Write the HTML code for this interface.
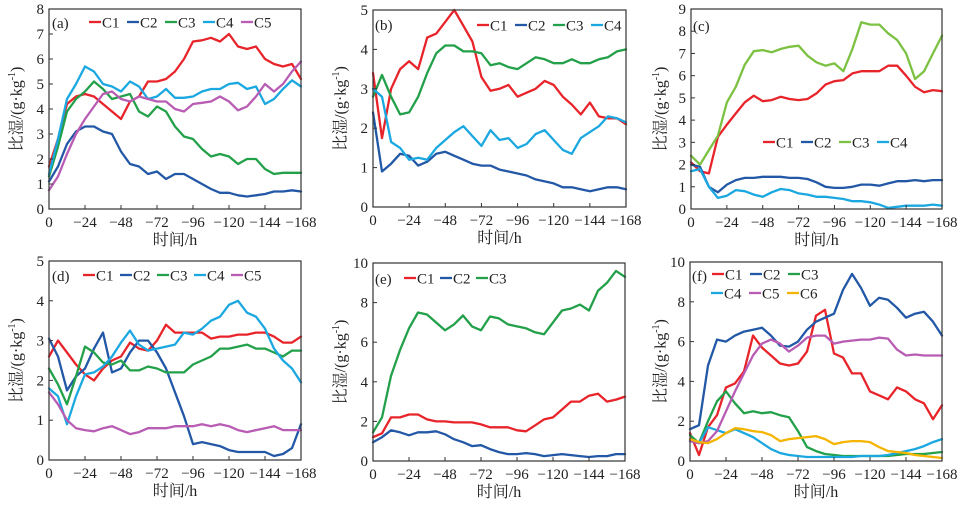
<!DOCTYPE html>
<html><head><meta charset="utf-8">
<style>
body{margin:0;background:#fff;}
svg{display:block;font-family:"Liberation Serif","Noto Serif CJK SC",serif;}
</style></head>
<body>
<svg id="chart" width="970" height="505" viewBox="0 0 970 505" xmlns="http://www.w3.org/2000/svg"></svg>
<script>
const hours=[0,6,12,18,24,30,36,42,48,54,60,66,72,78,84,90,96,102,108,114,120,126,132,138,144,150,156,162,168];
const xTicks=[0,24,48,72,96,120,144,168];
const xTickLabels=["0","\u221224","\u221248","\u221272","\u221296","\u2212120","\u2212144","\u2212168"];
const seriesNames=["C1","C2","C3","C4","C5","C6"];
// (a)
const aC1=[1.7,2.8,4.2,4.5,4.6,4.5,4.2,3.9,3.6,4.3,4.5,5.1,5.1,5.2,5.5,6.0,6.7,6.75,6.85,6.7,7.0,6.5,6.4,6.5,6.0,5.8,5.7,5.8,5.2];
const aC2=[1.1,1.7,2.6,3.1,3.3,3.3,3.1,3.0,2.3,1.8,1.7,1.4,1.5,1.2,1.4,1.4,1.2,1.0,0.8,0.65,0.65,0.55,0.5,0.55,0.6,0.7,0.7,0.75,0.7];
const aC3=[1.3,2.5,3.9,4.4,4.7,5.1,4.8,4.4,4.5,4.6,3.9,3.7,4.1,3.9,3.3,2.9,2.8,2.4,2.1,2.2,2.1,1.8,2.0,2.0,1.6,1.4,1.45,1.45,1.45];
const aC4=[1.4,2.8,4.4,5.0,5.7,5.5,5.0,4.9,4.7,5.1,4.9,4.4,4.5,4.8,4.45,4.45,4.5,4.7,4.8,4.8,5.0,5.05,4.8,4.9,4.2,4.4,4.8,5.15,4.9];
const aC5=[0.75,1.3,2.2,3.0,3.6,4.1,4.6,4.7,4.4,4.3,4.5,4.4,4.3,4.3,4.0,3.9,4.2,4.25,4.3,4.5,4.3,3.95,4.1,4.5,5.0,4.7,5.0,5.5,5.9];
// (b)
const bC1=[3.4,1.75,3.0,3.5,3.7,3.5,4.3,4.4,4.7,5.0,4.6,4.2,3.3,2.95,3.0,3.1,2.8,2.9,3.0,3.2,3.1,2.8,2.6,2.35,2.65,2.3,2.25,2.25,2.1];
const bC2=[2.4,0.9,1.1,1.35,1.3,1.05,1.15,1.35,1.4,1.3,1.2,1.1,1.05,1.05,0.95,0.9,0.85,0.8,0.7,0.65,0.6,0.5,0.5,0.45,0.4,0.45,0.5,0.5,0.45];
const bC3=[2.8,3.35,2.8,2.35,2.4,2.8,3.4,3.9,4.1,4.1,3.95,3.95,3.9,3.6,3.65,3.55,3.5,3.65,3.8,3.75,3.65,3.65,3.75,3.65,3.65,3.75,3.8,3.95,4.0];
const bC4=[3.0,2.8,1.65,1.5,1.2,1.25,1.2,1.5,1.7,1.9,2.05,1.8,1.55,1.95,1.7,1.75,1.5,1.6,1.85,1.95,1.7,1.45,1.35,1.75,1.9,2.05,2.3,2.25,2.15];
// (c)
const cC1=[2.1,1.7,1.6,3.25,3.8,4.3,4.8,5.1,4.85,4.9,5.05,4.95,4.9,4.95,5.2,5.6,5.75,5.8,6.1,6.2,6.2,6.2,6.45,6.45,6.0,5.5,5.25,5.35,5.3];
const cC2=[2.0,1.9,1.0,0.75,1.1,1.3,1.4,1.4,1.45,1.45,1.45,1.4,1.4,1.35,1.2,1.0,0.95,0.95,1.0,1.1,1.1,1.05,1.15,1.25,1.25,1.3,1.25,1.3,1.3];
const cC3=[2.4,2.0,2.65,3.3,4.8,5.5,6.5,7.1,7.15,7.05,7.2,7.3,7.35,6.9,6.6,6.45,6.55,6.2,7.2,8.4,8.3,8.3,7.9,7.6,7.0,5.85,6.2,7.0,7.8];
const cC4=[1.7,1.8,1.0,0.5,0.6,0.85,0.8,0.65,0.55,0.75,0.9,0.85,0.7,0.65,0.55,0.55,0.5,0.45,0.35,0.35,0.3,0.2,0.05,0.1,0.15,0.15,0.15,0.2,0.15];
// (d)
const dC1=[2.6,3.0,2.7,2.4,2.15,2.0,2.3,2.5,2.6,2.95,2.8,2.75,3.0,3.4,3.2,3.2,3.2,3.2,3.05,3.1,3.1,3.15,3.15,3.2,3.2,3.1,2.95,2.95,3.1];
const dC2=[3.05,2.6,1.75,2.1,2.3,2.8,3.2,2.2,2.3,2.7,3.0,3.0,2.7,2.3,1.7,1.1,0.4,0.45,0.4,0.35,0.25,0.2,0.2,0.2,0.2,0.1,0.15,0.3,0.9];
const dC3=[2.3,1.9,1.4,2.1,2.85,2.7,2.45,2.4,2.5,2.25,2.25,2.35,2.3,2.2,2.2,2.2,2.4,2.5,2.6,2.8,2.8,2.85,2.9,2.8,2.8,2.7,2.6,2.75,2.75];
const dC4=[1.8,1.6,0.9,1.6,2.15,2.2,2.35,2.6,2.95,3.25,2.9,2.75,2.8,2.85,2.9,3.2,3.15,3.3,3.5,3.6,3.9,4.0,3.7,3.6,3.3,2.8,2.5,2.3,1.95];
const dC5=[1.7,1.4,1.0,0.8,0.75,0.72,0.8,0.85,0.75,0.65,0.7,0.8,0.8,0.8,0.85,0.85,0.85,0.9,0.85,0.9,0.85,0.75,0.7,0.75,0.8,0.85,0.75,0.75,0.75];
// (e)
const eC1=[1.2,1.4,2.2,2.2,2.35,2.35,2.1,2.0,2.0,1.95,1.95,1.95,1.85,1.7,1.7,1.7,1.55,1.5,1.8,2.1,2.2,2.6,3.0,3.0,3.3,3.4,3.0,3.1,3.25];
const eC2=[0.95,1.2,1.55,1.45,1.3,1.45,1.45,1.5,1.35,1.1,0.95,0.75,0.8,0.6,0.45,0.35,0.35,0.4,0.35,0.25,0.3,0.35,0.3,0.25,0.2,0.25,0.25,0.35,0.35];
const eC3=[1.45,2.2,4.3,5.6,6.7,7.5,7.4,7.0,6.6,6.9,7.35,6.8,6.6,7.3,7.2,6.9,6.8,6.7,6.5,6.4,7.0,7.6,7.7,7.9,7.6,8.6,9.0,9.6,9.3];
// (f)
const fC1=[1.4,0.3,1.7,2.3,3.7,3.9,4.5,6.3,5.7,5.3,4.9,4.8,4.9,5.5,7.3,7.6,5.4,5.2,4.4,4.4,3.5,3.3,3.1,3.7,3.5,3.1,2.9,2.1,2.8];
const fC2=[1.6,1.8,4.8,6.1,6.0,6.3,6.5,6.6,6.7,6.3,5.8,5.75,6.0,6.6,7.0,7.2,7.4,8.6,9.4,8.7,7.8,8.2,8.1,7.7,7.2,7.4,7.5,7.0,6.3];
const fC3=[1.3,0.9,2.0,3.0,3.5,2.9,2.4,2.5,2.4,2.45,2.3,2.2,1.5,0.7,0.5,0.35,0.3,0.25,0.25,0.25,0.25,0.25,0.25,0.3,0.35,0.35,0.35,0.4,0.45];
const fC4=[1.0,0.9,1.7,1.55,1.4,1.6,1.4,1.2,0.9,0.6,0.4,0.3,0.25,0.2,0.2,0.2,0.2,0.2,0.2,0.25,0.25,0.25,0.3,0.4,0.5,0.6,0.75,0.95,1.1];
const fC5=[1.0,0.9,1.0,1.5,2.5,3.5,4.4,5.3,5.9,6.1,5.9,5.5,5.8,6.2,6.3,6.3,5.9,6.0,6.05,6.1,6.1,6.2,6.15,5.6,5.3,5.35,5.3,5.3,5.3];
const fC6=[1.1,0.95,0.9,1.1,1.4,1.65,1.6,1.5,1.45,1.3,1.0,1.1,1.15,1.2,1.25,1.1,0.85,0.95,1.0,1.0,0.95,0.7,0.5,0.45,0.4,0.3,0.25,0.2,0.15];

const COL={C1:"#e8242b",C2:"#2358a6",C3:"#23a04a",C4:"#1ba8e0",C5:"#b85cb4",C6:"#f5b400"};
const NS="http://www.w3.org/2000/svg";
const svg=document.getElementById('chart');
function mk(tag,attrs,parent){const e=document.createElementNS(NS,tag);for(const k in attrs)e.setAttribute(k,attrs[k]);(parent||svg).appendChild(e);return e;}

const panels=[
 {id:"a",x0:49,x1:301,y0:209,y1:9,ymax:8,ystep:1,series:[aC1,aC2,aC3,aC4,aC5],colors:["C1","C2","C3","C4","C5"],lx:89,ly:22,lsp:38,tag:[52,23],ytx:18},
 {id:"b",x0:373,x1:626,y0:207,y1:10,ymax:5,ystep:1,series:[bC1,bC2,bC3,bC4],colors:["C1","C2","C3","C4"],lx:477,ly:25,lsp:38,tag:[375,25],ytx:342},
 {id:"c",x0:691,x1:942,y0:209,y1:9,ymax:9,ystep:1,series:[cC1,cC2,cC3,cC4],colors:["C1","C2","C3","C4"],c3:"#7cc142",lx:763,ly:142,lsp:38,tag:[693,26],ytx:662},
 {id:"d",x0:49,x1:301,y0:460,y1:261,ymax:5,ystep:1,series:[dC1,dC2,dC3,dC4,dC5],colors:["C1","C2","C3","C4","C5"],lx:83,ly:275,lsp:37,tag:[52,276],ytx:18},
 {id:"e",x0:373,x1:625,y0:461,y1:263,ymax:10,ystep:2,series:[eC1,eC2,eC3],colors:["C1","C2","C3"],lx:404,ly:278,lsp:36,tag:[375,279],ytx:342},
 {id:"f",x0:690,x1:942,y0:461,y1:262,ymax:10,ystep:2,series:[fC1,fC2,fC3,fC4,fC5,fC6],colors:["C1","C2","C3","C4","C5","C6"],lx:712,ly:274,lsp:38,tag:[692,276],ytx:662,tworow:true}
];

panels.forEach(p=>{
 const g=mk('g',{});
 
 
 const xs=h=>p.x0+(h/168)*(p.x1-p.x0);
 const ys=v=>p.y0-(v/p.ymax)*(p.y0-p.y1);
 // series
 p.series.forEach((arr,i)=>{
  const key=p.colors[i];
  let col=COL[key]; if(p.id==="c"&&key==="C3")col=p.c3;
  const d=arr.map((v,j)=>(j?'L':'M')+xs(hours[j]).toFixed(1)+' '+ys(v).toFixed(1)).join(' ');
  const path=mk('path',{d:d,fill:'none',stroke:col,'stroke-width':2.3,'stroke-linejoin':'round','stroke-linecap':'round'},g);
  
  
 });
 // frame
 const fr=mk('rect',{x:p.x0,y:p.y1,width:p.x1-p.x0,height:p.y0-p.y1,fill:'none',stroke:'#333','stroke-width':1.2},g);
 
 
 // y ticks
 for(let v=0;v<=p.ymax+1e-9;v+=p.ystep){
  const y=ys(v);
  mk('line',{x1:p.x0,x2:p.x0+4,y1:y,y2:y,stroke:'#333','stroke-width':1},g);
  const t=mk('text',{x:p.x0-5,y:y+5,'font-size':15,'text-anchor':'end',fill:'#222'},g);
  t.textContent=String(v);
  
  
 }
 // x ticks
 xTicks.forEach((h,i)=>{
  const x=xs(h);
  mk('line',{x1:x,x2:x,y1:p.y0,y2:p.y0-4,stroke:'#333','stroke-width':1},g);
  const t=mk('text',{x:x,y:p.y0+18,'font-size':15,'text-anchor':'middle',fill:'#222'},g);
  t.textContent=xTickLabels[i];
  
  
 });
 // axis titles
 const xt=mk('text',{x:(p.x0+p.x1)/2,y:p.y0+36,'font-size':16,'text-anchor':'middle',fill:'#222'},g);
 xt.textContent="时间/h";
 
 
 const cy=(p.y0+p.y1)/2;
 const yt=mk('text',{x:p.ytx,y:cy,'font-size':16,'text-anchor':'middle',fill:'#222',transform:'rotate(-90 '+p.ytx+' '+cy+')','dominant-baseline':'middle'},g);
 yt.innerHTML='比湿/(g·kg<tspan baseline-shift="super" font-size="10">-1</tspan>)';
 
 
 // panel tag
 const tg=mk('text',{x:p.tag[0],y:p.tag[1]+5,'font-size':15,fill:'#222'},g);
 tg.textContent='('+p.id+')';
 
 
 // legend
 p.colors.forEach((key,i)=>{
  let col=COL[key]; if(p.id==="c"&&key==="C3")col=p.c3;
  let lx=p.lx+i*p.lsp, ly=p.ly;
  if(p.tworow&&i>=3){lx=p.lx+(i-3)*p.lsp-1;ly=p.ly+19;}
  const lg=mk('g',{},g);
  
  
  mk('line',{x1:lx,x2:lx+12,y1:ly,y2:ly,stroke:col,'stroke-width':2.3},lg);
  const t=mk('text',{x:lx+13,y:ly+5.5,'font-size':15,fill:'#222'},lg);
  t.textContent=key;
 });
});
</script>
</body></html>
